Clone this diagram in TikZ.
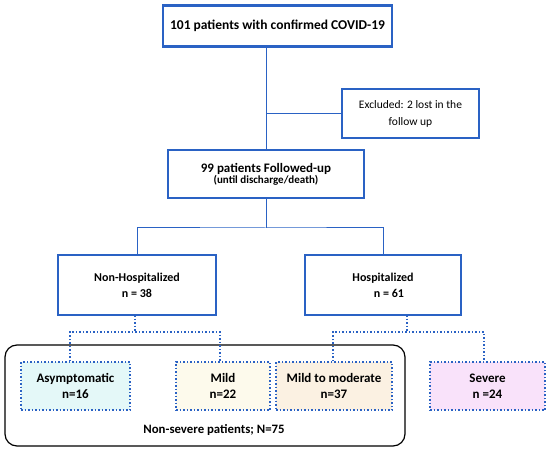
\documentclass[tikz,border=0pt]{standalone}
\usepackage{fontspec}
\setmainfont{Carlito}
\definecolor{lineblue}{HTML}{2A62C4}
\definecolor{fillA}{HTML}{E4F8F8}
\definecolor{fillB}{HTML}{FDFAEC}
\definecolor{fillC}{HTML}{FBF1E2}
\definecolor{fillD}{HTML}{F9E2FA}
\tikzset{
  solidbox/.style={draw=lineblue, line width=1.6pt, fill=white, align=center, inner sep=0pt},
  dotbox/.style={draw=lineblue, line width=1.5pt, dotted, align=center, inner sep=0pt},
  conn/.style={draw=lineblue, line width=1pt},
  dotconn/.style={draw=lineblue, line width=1.5pt, dotted},
  bt/.style={font=\bfseries\fontsize{13}{16}\selectfont},
  bts/.style={font=\bfseries\fontsize{12}{16}\selectfont},
}
\begin{document}
\begin{tikzpicture}[x=1pt,y=-1pt]
\useasboundingbox (0,0) rectangle (550,452);
% outer rounded group
\draw[line width=1.2pt, rounded corners=12pt] (5,345) rectangle (405,446);
\node[font=\bfseries\fontsize{12.8}{14}\selectfont] (ns) at (214,430) {Non-severe patients; N=75};

\node[solidbox, line width=2.2pt, minimum width=229pt, minimum height=41pt, font=\bfseries\fontsize{13.5}{14}\selectfont] (top) at (277.5,26) {101 patients with confirmed COVID-19};
\node[solidbox, minimum width=137pt, minimum height=49pt, font=\fontsize{11.5}{17}\selectfont] (exc) at (410.5,113.5) {Excluded: 2 lost in the\\follow up};
\node[solidbox, minimum width=196pt, minimum height=48pt] (fu) at (266,174) {\raisebox{-2pt}{\bfseries\fontsize{13}{14}\selectfont 99 patients Followed-up}\\[0pt]{\bfseries\fontsize{11}{12}\selectfont (until discharge/death)}};
\node[solidbox, minimum width=158pt, minimum height=60pt, bts] (nh) at (137,285) {Non-Hospitalized\\n = 38};
\node[solidbox, minimum width=156pt, minimum height=60pt, bts] (ho) at (383,285) {Hospitalized\\\hspace*{12pt}n = 61};

\node[dotbox, fill=fillA, minimum width=109pt, minimum height=48pt, bt] (as) at (75.5,386) {Asymptomatic\\n=16};
\node[dotbox, fill=fillB, minimum width=94pt, minimum height=48pt, bt] (mi) at (223,386) {Mild\\n=22};
\node[dotbox, fill=fillC, minimum width=116pt, minimum height=48pt, bt] (mm) at (334,386) {Mild to moderate\\n=37};
\node[dotbox, fill=fillD, minimum width=115pt, minimum height=48pt, bt] (se) at (487.5,386) {Severe\\n =24};

% connectors
\draw[conn] (top.south -| fu.north) -- (fu.north);
\draw[conn] (exc.west) -- (exc.west -| fu.north);
\coordinate (bh) at (266,228);
\draw[conn] (fu.south) -- (bh);
\draw[conn] (nh.north) |- (bh) -| (ho.north);
\coordinate (bl) at (135,332);
\coordinate (br) at (407,332);
\draw[dotconn] (135,315) -- (bl);
\draw[dotconn] (as.north -| 70,0) |- (bl) -| (mi.north -| 220,0);
\draw[dotconn] (407,315) -- (br);
\draw[dotconn] (mm.north -| 333,0) |- (br) -| (se.north -| 484,0);
\end{tikzpicture}
\end{document}
